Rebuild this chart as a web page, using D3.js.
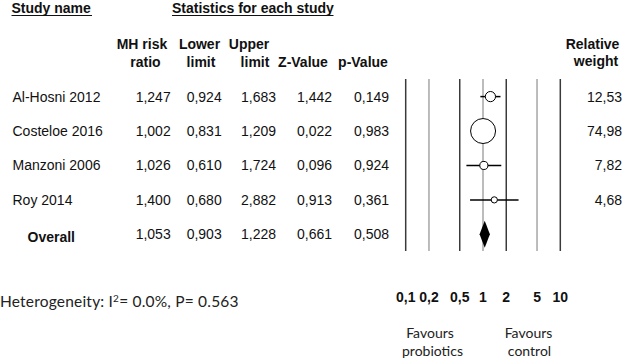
<!DOCTYPE html>
<html>
<head>
<meta charset="utf-8">
<script src="https://cdn.jsdelivr.net/npm/d3@7"></script>
<style>
  html, body { margin: 0; padding: 0; background: #fff; }
  svg { display: block; }
</style>
</head>
<body>
<div id="chart"></div>
<script>
// studies and their statistics
const studies = ["Al-Hosni 2012", "Costeloe 2016", "Manzoni 2006", "Roy 2014"];
const riskRatio = [1.247, 1.002, 1.026, 1.400];
const lowerLimit = [0.924, 0.831, 0.610, 0.680];
const upperLimit = [1.683, 1.209, 1.724, 2.882];
const zValue = [1.442, 0.022, 0.096, 0.913];
const pValue = [0.149, 0.983, 0.924, 0.361];
const relWeight = [12.53, 74.98, 7.82, 4.68];

const overall = { label: "Overall", rr: 1.053, lo: 0.903, hi: 1.228, z: 0.661, p: 0.508 };

const tickValues = [0.1, 0.2, 0.5, 1, 2, 5, 10];
const tickLabels = ["0,1", "0,2", "0,5", "1", "2", "5", "10"];
const darkTicks = [0.1, 0.5, 2, 10];

const heterogeneity = { i2: "0.0%", p: "0.563" };

const width = 625, height = 360;

const svg = d3.select("#chart").append("svg")
    .attr("width", width)
    .attr("height", height)
    .style("font-family", "'Liberation Sans', Arial, sans-serif");

// comma as decimal separator
const locale = d3.formatLocale({ decimal: ",", thousands: ".", grouping: [3], currency: ["", ""] });
const f3 = locale.format(".3f");
const f2 = locale.format(".2f");

// scales
const x = d3.scaleLog().domain([0.1, 10]).range([405.7, 560.3]);
const rows = studies.concat([overall.label]);
const y = d3.scalePoint().domain(rows).range([96.6, 234.3]);
const r = d3.scaleSqrt().domain([0, 75]).range([0, 12.5]);

// top headers
const hdr = svg.append("g").style("font-weight", "bold").style("font-size", "14px").attr("fill", "#111");
hdr.append("text").attr("x", 11.5).attr("y", 13).text("Study name");
hdr.append("text").attr("x", 172).attr("y", 13).text("Statistics for each study");
hdr.append("line").attr("x1", 11.5).attr("x2", 92).attr("y1", 15.5).attr("y2", 15.5)
    .attr("stroke", "#111").attr("stroke-width", 1);
hdr.append("line").attr("x1", 172).attr("x2", 333.5).attr("y1", 15.5).attr("y2", 15.5)
    .attr("stroke", "#111").attr("stroke-width", 1);

// column headers
const colRight = [170.7, 221.7, 276, 332, 389];
const headerLines = [
    [["MH risk", 142], ["ratio", 145.5]],
    [["Lower", 199.5], ["limit", 201]],
    [["Upper", 249], ["limit", 255]],
    [["", 0], ["Z-Value", 303]],
    [["", 0], ["p-Value", 363]]
];
headerLines.forEach(h => {
    h.forEach((t, i) => {
        if (!t[0]) return;
        hdr.append("text")
            .attr("x", t[1])
            .attr("y", i === 0 ? 49 : 66.5)
            .attr("text-anchor", "middle")
            .text(t[0]);
    });
});
hdr.append("text").attr("x", 592.5).attr("y", 48.5).attr("text-anchor", "middle").text("Relative");
hdr.append("text").attr("x", 596).attr("y", 65.5).attr("text-anchor", "middle").text("weight");

// table body
const body = svg.append("g").style("font-size", "14px").attr("fill", "#111");
studies.forEach((s, i) => {
    const yy = y(s) + 5;
    body.append("text").attr("x", 12.5).attr("y", yy).text(s);
    [riskRatio[i], lowerLimit[i], upperLimit[i], zValue[i], pValue[i]].forEach((v, j) => {
        body.append("text").attr("x", colRight[j]).attr("y", yy)
            .attr("text-anchor", "end").text(f3(v));
    });
    body.append("text").attr("x", 622).attr("y", yy)
        .attr("text-anchor", "end").text(f2(relWeight[i]));
});
const oy = y(overall.label) + 5;
body.append("text").attr("x", 27.5).attr("y", oy + 2.5)
    .style("font-weight", "bold").text(overall.label);
[overall.rr, overall.lo, overall.hi, overall.z, overall.p].forEach((v, j) => {
    body.append("text").attr("x", colRight[j]).attr("y", oy)
        .attr("text-anchor", "end").text(f3(v));
});

// reference lines
const plot = svg.append("g");
plot.selectAll("line.grid")
    .data(tickValues)
    .enter()
    .append("line")
    .attr("class", "grid")
    .attr("x1", d => x(d))
    .attr("x2", d => x(d))
    .attr("y1", 79)
    .attr("y2", 251)
    .attr("stroke", d => darkTicks.includes(d) ? "#3a3a3a" : "#a6a6a6")
    .attr("stroke-width", 1.5);

// confidence intervals
studies.forEach((s, i) => {
    plot.append("line")
        .attr("x1", x(lowerLimit[i]))
        .attr("x2", x(upperLimit[i]))
        .attr("y1", y(s))
        .attr("y2", y(s))
        .attr("stroke", "#000")
        .attr("stroke-width", 1.5);
});

// point estimates
plot.selectAll("circle.est")
    .data(studies)
    .enter()
    .append("circle")
    .attr("class", "est")
    .attr("cx", (d, i) => x(riskRatio[i]))
    .attr("cy", d => y(d))
    .attr("r", (d, i) => Math.max(2.5, r(relWeight[i])))
    .attr("fill", "#fff")
    .attr("stroke", "#000")
    .attr("stroke-width", 1);

// overall diamond
const dy = y(overall.label);
const dh = 13.5;
plot.append("path")
    .attr("d", `M${x(overall.lo)},${dy} L${x(overall.rr)},${dy - dh} L${x(overall.hi)},${dy} L${x(overall.rr)},${dy + dh} Z`)
    .attr("fill", "#000");

// axis tick labels
const ax = svg.append("g").style("font-size", "14px").style("font-weight", "bold").attr("fill", "#111");
ax.selectAll("text")
    .data(tickValues)
    .enter()
    .append("text")
    .attr("x", d => x(d))
    .attr("y", 302)
    .attr("text-anchor", "middle")
    .text((d, i) => tickLabels[i]);

// favours labels
const fav = svg.append("g").style("font-family", "Lato, 'Open Sans', sans-serif")
    .style("font-size", "14px").attr("fill", "#222").attr("text-anchor", "middle");
fav.append("text").attr("x", 430).attr("y", 338).text("Favours");
fav.append("text").attr("x", 432.5).attr("y", 356).text("probiotics");
fav.append("text").attr("x", 528.5).attr("y", 338).text("Favours");
fav.append("text").attr("x", 529.5).attr("y", 356).text("control");

// heterogeneity note
const het = svg.append("text")
    .attr("x", 0)
    .attr("y", 307)
    .style("font-family", "Lato, 'Open Sans', sans-serif")
    .style("font-size", "15.5px")
    .style("letter-spacing", "0.2px")
    .attr("fill", "#222");
het.append("tspan").text("Heterogeneity: I");
het.append("tspan").attr("dy", -5).style("font-size", "10px").text("2");
het.append("tspan").attr("dy", 5).text(`= ${heterogeneity.i2}, P= ${heterogeneity.p}`);
</script>
</body>
</html>
